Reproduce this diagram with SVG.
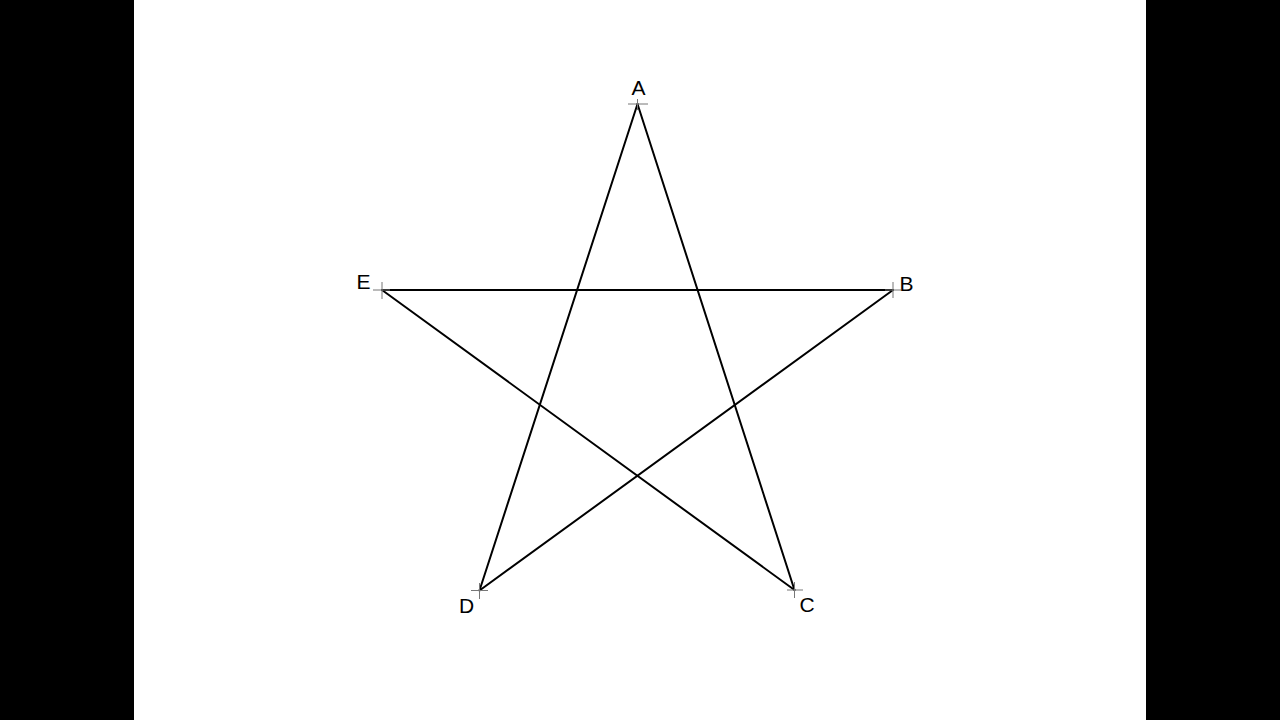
<svg xmlns="http://www.w3.org/2000/svg" width="1280" height="720" viewBox="0 0 1280 720">
<style>
.edge{stroke:#000;stroke-width:2;fill:none;stroke-linecap:round}
.tick{stroke:#777;stroke-width:1;fill:none}
.lbl{font-family:"Liberation Sans",Arial,sans-serif;font-size:21px;fill:#000}
</style>
<rect x="0" y="0" width="1280" height="720" fill="#000"/>
<rect x="134" y="0" width="1012" height="720" fill="#fff"/>
<g id="connectors">
<line class="edge" x1="637.5" y1="104" x2="794.5" y2="590"/>
<line class="edge" x1="637.5" y1="104" x2="479.5" y2="590.5"/>
<line class="edge" x1="382" y1="290" x2="893" y2="290"/>
<line class="edge" x1="382" y1="290" x2="794.5" y2="590"/>
<line class="edge" x1="893" y1="290" x2="479.5" y2="590.5"/>
</g>
<g id="A"><path class="tick" d="M628 104H648M637.5 99V110"/><text class="lbl" x="638.5" y="95" text-anchor="middle">A</text></g>
<g id="B"><path class="tick" d="M885 290H901M893 282V298"/><text class="lbl" x="906.5" y="291" text-anchor="middle">B</text></g>
<g id="C"><path class="tick" d="M787 590H803M794.5 582V598"/><text class="lbl" x="807" y="612" text-anchor="middle">C</text></g>
<g id="D"><path class="tick" d="M471 590.5H488M479.5 583V599"/><text class="lbl" x="466.5" y="613" text-anchor="middle">D</text></g>
<g id="E"><path class="tick" d="M373 290H390M382 282V299"/><text class="lbl" x="363.5" y="289" text-anchor="middle">E</text></g>
</svg>
